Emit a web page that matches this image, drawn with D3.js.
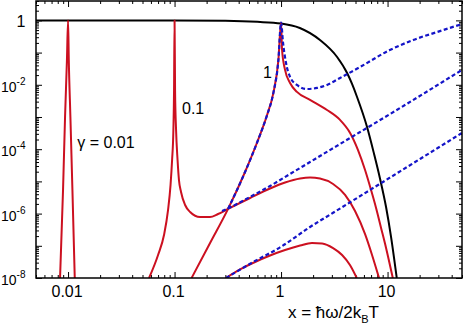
<!DOCTYPE html>
<html lang="en">
<head>
<meta charset="UTF-8">
<title>Spectral curves vs x</title>
<script src="https://d3js.org/d3.v7.min.js"></script>
<style>
body { margin: 0; background: #fff; }
svg { display: block; font-family: "Liberation Sans", Arial, sans-serif; }
.lbl { font-size: 16px; fill: #000; }
</style>
</head>
<body>
<svg id="chart" width="463" height="329"></svg>
<script>
// tick values / labels
const xMajor = [0.01, 0.1, 1, 10];
const xMajorLabels = ["0.01", "0.1", "1", "10"];
const yLabelExps = [0, -2, -4, -6, -8];

// black: upper envelope
const blackCurve = [[0.005, 1], [0.1, 0.997], [0.3, 0.97], [0.6, 0.9], [1, 0.8], [1.5, 0.58],
  [2.32, 0.246], [3.36, 0.073], [4.17, 0.0232], [4.64, 0.0106], [5.17, 4.18e-3], [6.42, 4.89e-4],
  [7.47, 7.1e-5], [8.51, 1.19e-5], [9.68, 1.6e-6], [10.79, 1.87e-7], [12.2, 1e-8]];

// red solid curves, one per gamma
const redG001Spike = [[0.00841, 1e-8], [0.00897, 5.4e-6], [0.00937, 1e-3], [0.00976, 0.059], [0.01, 1],
  [0.01016, 0.059], [0.01052, 1e-3], [0.01099, 5.4e-6], [0.01156, 1e-8]];
const redG001Hump = [[0.304, 1e-8], [0.412, 1.84e-8], [0.57, 3.14e-8], [0.788, 5.0e-8], [1.09, 7.4e-8],
  [1.51, 1.02e-7], [1.95, 1.22e-7], [2.43, 1.18e-7], [3.08, 8.5e-8], [3.74, 5.2e-8], [4.45, 2.5e-8],
  [5.14, 1e-8]];
const redG01 = [[0.0576, 1e-8], [0.070, 5.2e-8], [0.0797, 2.2e-7], [0.0869, 1.3e-6], [0.0917, 7.8e-6],
  [0.0948, 4.6e-5], [0.0975, 4e-4], [0.0989, 6.9e-3], [0.1, 1],
  [0.1011, 6.9e-3], [0.1033, 4e-4], [0.1067, 4.6e-5], [0.110, 1.1e-5], [0.115, 4.7e-6],
  [0.1256, 1.85e-6], [0.14, 1.12e-6], [0.1735, 7.8e-7], [0.215, 7.8e-7], [0.256, 9.7e-7],
  [0.318, 1.4e-6], [0.512, 3.05e-6], [0.788, 6.0e-6], [1.09, 9.2e-6], [1.51, 1.23e-5],
  [1.87, 1.32e-5], [2.32, 1.23e-5], [3.08, 8.3e-6], [3.99, 3.8e-6], [4.95, 1.2e-6],
  [6.15, 2.3e-7], [7.15, 5.2e-8], [8.32, 1e-8]];
const redG1 = [[0.1445, 1e-8], [0.2155, 1.22e-7], [0.318, 1.4e-6], [0.459, 1.96e-5], [0.608, 1.93e-4],
  [0.734, 1.07e-3], [0.847, 5.6e-3], [0.944, 0.059], [1, 0.85],
  [1.022, 0.12], [1.09, 0.029], [1.215, 0.0114], [1.41, 6e-3], [1.87, 3.4e-3], [2.7, 1.65e-3],
  [3.58, 8.1e-4], [4.45, 3.2e-4], [5.28, 9.4e-5], [6.15, 2.26e-5], [7.0, 5.4e-6], [7.8, 1.5e-6],
  [8.69, 3.6e-7], [9.68, 8.6e-8], [11.2, 1e-8]];

// blue dotted approximations
const blueG1 = [[0.318, 1.4e-6], [0.459, 1.96e-5], [0.608, 1.93e-4], [0.734, 1.07e-3], [0.847, 5.6e-3],
  [0.944, 0.059], [1, 0.85], [1.044, 0.2], [1.11, 0.05], [1.215, 0.0175], [1.41, 9.9e-3],
  [1.75, 7.4e-3], [2.18, 8e-3], [2.7, 9.9e-3], [3.58, 0.0163], [5.52, 0.0357], [10.5, 0.12],
  [17.4, 0.246], [29.2, 0.436], [50, 0.77]];
const blueG01 = [[0.279, 1.2e-6], [0.318, 1.45e-6], [0.512, 3.3e-6], [0.788, 7.2e-6], [1.215, 1.7e-5],
  [1.87, 4.0e-5], [3.58, 1.45e-4], [13.1, 1.9e-3], [50, 0.029]];
const blueG001 = [[0.304, 1e-8], [0.57, 3.37e-8], [0.978, 8.9e-8], [1.87, 3.84e-7], [3.08, 1.06e-6],
  [13.1, 2.05e-5], [50, 3.2e-4]];

const plotLeft = 36, plotRight = 462, plotTop = 1, plotBottom = 278;

const svg = d3.select("#chart");
const x = d3.scaleLog().domain([0.005, 50]).range([plotLeft, plotRight]);
const y = d3.scaleLog().domain([1e-8, 4]).range([plotBottom, plotTop]);

svg.append("defs").append("clipPath").attr("id", "plotclip")
  .append("rect").attr("x", plotLeft).attr("y", plotTop)
  .attr("width", plotRight - plotLeft).attr("height", plotBottom - plotTop);

// ticks (all inward, mirrored on every side)
const xMinor = x.ticks().filter(v => !xMajor.some(m => Math.abs(m - v) / m < 1e-6));
const yMajor = d3.range(-8, 1).map(e => Math.pow(10, e));
const yMinor = y.ticks().filter(v => !yMajor.some(m => Math.abs(m - v) / m < 1e-6));

function addAxis(axisFn, scale, vals, size, tx, ty) {
  const g = svg.append("g").attr("transform", `translate(${tx},${ty})`)
    .call(axisFn(scale).tickValues(vals).tickSize(-size).tickFormat(""));
  g.select(".domain").remove();
  g.selectAll("line").attr("stroke", "#000").attr("stroke-width", 1);
}
addAxis(d3.axisBottom, x, xMajor, 6, 0, plotBottom);
addAxis(d3.axisBottom, x, xMinor, 3, 0, plotBottom);
addAxis(d3.axisTop, x, xMajor, 6, 0, plotTop);
addAxis(d3.axisTop, x, xMinor, 3, 0, plotTop);
addAxis(d3.axisLeft, y, yMajor, 6, plotLeft, 0);
addAxis(d3.axisLeft, y, yMinor, 3, plotLeft, 0);
addAxis(d3.axisRight, y, yMajor, 6, plotRight, 0);
addAxis(d3.axisRight, y, yMinor, 3, plotRight, 0);

// curves
const line = d3.line().x(d => x(d[0])).y(d => y(d[1])).curve(d3.curveMonotoneX);
const plot = svg.append("g").attr("clip-path", "url(#plotclip)");

plot.append("path").datum(blackCurve).attr("d", line)
  .attr("fill", "none").attr("stroke", "#000").attr("stroke-width", 2);

[redG001Spike, redG001Hump, redG01, redG1].forEach(s => {
  plot.append("path").datum(s).attr("d", line)
    .attr("fill", "none").attr("stroke", "#cc1020").attr("stroke-width", 2)
    .attr("stroke-linejoin", "round");
});

[blueG1, blueG01, blueG001].forEach(s => {
  plot.append("path").datum(s).attr("d", line)
    .attr("fill", "none").attr("stroke", "#1414c8").attr("stroke-width", 2.2)
    .attr("stroke-dasharray", "4,2.5");
});

// frame
svg.append("rect").attr("x", plotLeft).attr("y", plotTop)
  .attr("width", plotRight - plotLeft).attr("height", plotBottom - plotTop)
  .attr("fill", "none").attr("stroke", "#000").attr("stroke-width", 1.5);

// x tick labels
xMajor.forEach((v, i) => {
  svg.append("text").attr("class", "lbl").attr("x", x(v) - 1).attr("y", 297)
    .attr("text-anchor", "middle").text(xMajorLabels[i]);
});

// y tick labels
yLabelExps.forEach(e => {
  const t = svg.append("text").attr("class", "lbl").attr("x", 25.5).attr("y", y(Math.pow(10, e)) + 7)
    .attr("text-anchor", "end");
  if (e === 0) {
    t.text("1");
  } else {
    t.append("tspan").attr("font-size", 14).text("10");
    t.append("tspan").attr("dy", -7).attr("font-size", 10).text(String(e));
  }
});

// curve annotations
svg.append("text").attr("class", "lbl").attr("x", x(0.0122)).attr("y", y(1.1e-4)).text("γ = 0.01");
svg.append("text").attr("class", "lbl").attr("x", x(0.1175)).attr("y", y(1.2e-3)).text("0.1");
svg.append("text").attr("class", "lbl").attr("x", x(0.678)).attr("y", y(0.0163)).text("1");

// axis title
const title = svg.append("text").attr("class", "lbl").attr("font-size", 17)
  .style("font-size", "17px").attr("x", 379).attr("y", 318).attr("text-anchor", "end");
title.append("tspan").text("x = ħω/2k");
title.append("tspan").attr("dy", 5).attr("font-size", 11).style("font-size", "11px").text("B");
title.append("tspan").attr("dy", -5).text("T");
</script>
</body>
</html>
